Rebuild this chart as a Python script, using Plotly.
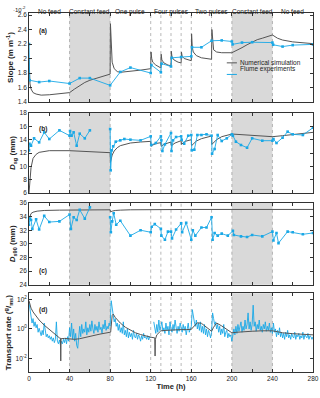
import plotly.graph_objects as go
from plotly.subplots import make_subplots

# ---- data ----
# (a) slope, x1e-2
slope_sim_t = [0, 0.5, 1, 2, 4, 7, 12, 20, 30, 40, 45, 50, 55, 60, 65, 70, 75, 80, 80.3, 81, 82, 84, 87, 90,
               100, 110, 120, 120.3, 121, 122, 125, 128, 130, 130.3, 131, 133, 137, 140, 140.3, 141, 143, 147,
               150, 150.3, 151, 153, 157, 160, 160.3, 161, 162, 165, 170, 175, 180, 180.3, 181, 182, 185, 190,
               200, 205, 210, 215, 220, 225, 230, 235, 240, 245, 250, 260, 270, 280]
slope_sim = [2.0, 1.75, 1.65, 1.58, 1.53, 1.51, 1.495, 1.50, 1.51, 1.53, 1.58, 1.63, 1.67, 1.70, 1.72, 1.74,
             1.76, 1.785, 2.48, 2.1, 1.95, 1.86, 1.82, 1.81, 1.82, 1.84, 1.86, 2.09, 2.0, 1.95, 1.91, 1.88,
             1.87, 2.06, 1.98, 1.94, 1.91, 1.90, 2.10, 2.02, 1.98, 1.95, 1.94, 2.09, 2.03, 2.0, 1.98, 1.97,
             2.34, 2.15, 2.09, 2.04, 2.01, 2.0, 1.99, 2.40, 2.2, 2.12, 2.09, 2.08, 2.08, 2.11, 2.15, 2.19,
             2.23, 2.26, 2.28, 2.30, 2.325, 2.28, 2.255, 2.23, 2.215, 2.205]
slope_exp_t = [0, 0.7, 10, 20, 40, 50, 60, 80, 90, 100, 120, 120.7, 130, 130.7, 140, 140.7, 150, 160,
               160.7, 170, 180, 190, 200, 200.7, 210, 220, 240, 240.7, 250, 260, 280]
slope_exp = [2.2, 1.70, 1.675, 1.69, 1.655, 1.73, 1.73, 1.63, 1.815, 1.875, 1.80, 1.91, 1.81, 1.93, 1.89,
             2.01, 2.02, 2.03, 2.155, 2.155, 2.245, 2.25, 2.235, 2.195, 2.22, 2.225, 2.22, 2.19, 2.165,
             2.185, 2.195]

# (b) Dsg (mm)
dsg_sim_t = [0, 0.5, 1, 2, 4, 7, 10, 20, 40, 60, 80, 80.3, 81, 82, 84, 87, 90, 95, 100, 110, 120, 120.3,
             122, 126, 130, 130.3, 133, 140, 140.3, 144, 150, 150.3, 154, 160, 160.3, 165, 170, 180, 180.3,
             185, 190, 200, 210, 220, 230, 240, 250, 260, 270, 280]
dsg_sim = [6.0, 7.5, 8.6, 9.8, 11.2, 11.8, 12.1, 12.35, 12.35, 12.2, 12.05, 10.6, 11.2, 11.7, 12.3, 12.8,
           13.1, 13.35, 13.5, 13.65, 13.75, 13.0, 13.2, 13.45, 13.55, 13.0, 13.3, 13.65, 13.1, 13.5, 13.85,
           13.3, 13.75, 14.0, 13.1, 13.8, 14.15, 14.55, 13.3, 14.0, 14.45, 14.85, 14.75, 14.6, 14.5, 14.45,
           14.6, 14.8, 14.95, 15.1]
dsg_exp_t = [0, 0.5, 2, 5, 10, 15, 20, 30, 40, 40.5, 42, 44, 47, 50, 55, 60, 70, 80, 80.5, 81.5, 83, 85.5,
             90, 94, 100, 110, 120, 120.5, 125, 130, 130.5, 131.5, 134, 140, 140.5, 142, 145, 150, 150.5,
             153, 157, 160, 160.5, 163, 166, 170, 175, 180, 180.5, 183, 186, 190, 195, 200, 201, 204, 209,
             215, 220, 230, 240, 241, 244, 250, 255, 260, 270, 280]
dsg_exp = [12.4, 13.4, 13.1, 14.2, 13.6, 15.1, 14.1, 15.4, 14.6, 15.3, 14.6, 15.1, 13.1, 14.9, 14.2, 15.4,
           None, 15.6, 9.4, 12.4, 13.0, 13.7, 13.9, 14.1, 14.0, 13.9, 14.5, 13.2, 13.5, 14.5, 13.9, 12.3,
           13.3, 15.0, 12.3, 13.9, 14.4, 14.5, 14.0, 13.4, 14.6, 14.7, 12.4, 12.5, 14.7, 14.7, 14.8, 14.6,
           11.9, 12.6, 14.7, 13.8, 14.2, 14.8, 14.6, 13.7, 13.2, 12.8, 14.2, 13.85, 13.85, 14.1, 13.5, 14.3,
           15.2, 14.8, 14.7, 15.8]

# (c) Ds90 (mm)
d90_sim_t = [0, 0.5, 1, 2, 4, 8, 15, 30, 80, 80.3, 82, 85, 90, 100, 160, 200, 280]
d90_sim = [33.6, 33.9, 34.2, 34.45, 34.65, 34.8, 34.9, 34.95, 35.0, 34.7, 34.8, 34.9, 34.95, 35.0, 35.05,
           35.05, 35.05]
d90_exp_t = [0, 1, 2, 3.3, 7, 10, 15, 20, 30, 40, 41.3, 44, 47, 50, 55, 60, 70, 80, 80.7, 82, 83.5, 86, 90,
             100, 110, 120, 121, 124, 130, 130.5, 134, 137, 140, 141, 145, 150, 151, 155, 160, 161.5, 164,
             170, 175, 180, 181, 183, 186, 190, 196, 201, 202, 209, 215, 220, 230, 240, 241, 244, 246, 255,
             260, 270, 280]
d90_exp = [32.8, 33.7, 33.5, 32.2, 33.6, 32.1, 34.1, 33.2, 33.3, 34.3, 32.2, 33.9, 33.5, 35.0, 33.7, 35.35,
           None, 33.9, 31.7, 33.3, 34.5, 32.8, 33.4, 31.2, 32.0, 31.7, 32.5, 32.9, 32.2, 31.2, 30.6, 31.8,
           31.8, 30.8, 32.1, 33.0, 31.7, 33.1, 30.6, 32.0, 31.2, 32.4, 32.4, 33.9, 30.6, 31.6, 31.2, 31.5,
           31.2, 31.9, 31.3, 31.1, 31.0, 31.3, 31.1, 31.8, 30.5, 31.6, 30.1, 31.8, 31.7, 31.4, 31.6]

# (d) transport rate (g m-1 s-1)
qs_sim_t = [0, 1, 2, 4, 7, 10, 15, 20, 25, 30, 31, 31.3, 31.6, 35, 40, 45, 50, 60, 70, 80, 80.5, 82, 83,
            85, 90, 95, 100, 105, 110, 115, 120, 124, 124.3, 124.6, 126, 128, 130, 135, 140, 145, 150, 155,
            160, 163, 166, 170, 175, 180, 182, 185, 190, 195, 200, 205, 210, 220, 230, 240, 245, 250, 260,
            270, 280]
qs_sim = [80, 40, 25, 14, 7, 4, 1.8, 0.9, 0.45, 0.25, 0.24, 0.007, 0.22, 0.23, 0.21, 0.2, 0.22, 0.33, 0.45,
          0.6, 0.6, 8, 10, 6, 2.5, 1.3, 0.8, 0.55, 0.42, 0.33, 0.28, 0.25, 0.015, 0.2, 0.4, 0.6, 0.75, 0.8,
          0.85, 0.85, 0.9, 0.9, 0.95, 1.6, 2.6, 2.4, 1.3, 0.7, 1.3, 2.5, 1.6, 0.9, 0.55, 0.6, 0.65, 0.7,
          0.75, 0.75, 0.65, 0.55, 0.48, 0.43, 0.4]
qs_exp_t = list(range(0, 281))
qs_exp = [60, 15, 4, 2.5, 5, 1.5, 3, 1.2, 2, 0.6, 1.1, 0.5, 0.35, 0.8, 0.4, 2.5, 0.5, 0.3, 0.45, 0.25,
          0.35, 0.2, 0.3, 0.15, 0.25, 0.12, 0.2, 3, 0.15, 0.1, 0.18, 0.08, 0.15, 0.1, 0.2, 0.12, 0.25, 0.1,
          0.3, 0.15, 1.2, 0.3, 2.5, 0.2, 1, 0.15, 0.5, 0.08, 0.05, 0.4, 1.5, 0.3, 2, 0.5, 1, 0.6, 3, 0.4,
          1.2, 0.6, 2, 0.7, 3.5, 1, 0.5, 2, 0.8, 1.5, 0.6, 3, 0.9, 1.3, 0.5, 2, 1, 4, 0.8, 1.5, 1, 2.5,
          1.5, 80, 20, 8, 3, 5, 1.5, 2.5, 0.8, 2, 0.6, 1.2, 0.5, 3, 0.4, 0.8, 0.3, 1, 0.25, 0.6, 0.3, 0.5,
          0.2, 0.8, 0.3, 0.25, 0.5, 0.2, 0.4, 0.3, 0.15, 0.35, 0.2, 0.5, 0.25, 0.3, 0.2, 0.35, 0.18, 0.3,
          0.25, None, None, 3, 1, 0.5, 2, 0.6, 4, 0.8, 1.5, 3, 0.7, 1.2, 0.5, 2.5, 0.8, 1.5, 0.4, 3, 1,
          0.6, 2, 0.8, 4, 1, 0.5, 1.5, 0.7, 2.5, 1, 0.6, 2, 0.8, 1.5, 0.4, 1, 2.5, 0.6, 1, 1.5, 20, 6, 3,
          1.5, 4, 1, 2.5, 0.8, 3, 0.6, 1.5, 0.5, 2, 0.4, 1, 0.3, 0.8, 0.5, 0.25, 0.6, 12, 5, 2, 3, 1, 2,
          0.6, 1.5, 0.4, 1, 0.5, 2, 0.3, 0.6, 0.8, 0.25, 0.5, 0.3, 0.4, 0.15, 0.3, 1, 0.4, 1.5, 0.5, 2,
          0.7, 1.2, 3, 0.6, 1.5, 0.8, 4, 1, 2, 12, 1, 3, 0.8, 2, 40, 1.5, 3, 0.7, 2, 1, 4, 0.8, 1.5, 0.6,
          2, 1, 3, 0.7, 1.5, 0.8, 2.5, 0.6, 1.2, 0.5, 2.5, 0.6, 1, 0.3, 0.8, 0.4, 1.2, 0.3, 0.6, 0.25, 0.5,
          0.2, 0.6, 0.3, 0.8, 0.25, 0.4, 0.2, 0.5, 0.3, 0.25, 0.6, 0.2, 0.4, 0.3, 0.5, 0.2, 0.35, 0.25,
          0.6, 0.2, 0.4, 0.3, 0.25, 0.5, 0.2, 0.35, 0.3, 0.2, 0.3]

feed_bands = [(40, 80), (200, 240)]
event_lines = [40, 80, 120, 130, 140, 150, 160, 180, 200, 240]
phase_labels = ["No feed", "Constant feed", "One pulse", "Four pulses", "Two pulses", "Constant feed", "No feed"]
phase_pos = [20, 60, 100, 140, 180, 220, 260]

BLUE = "#1aa8e6"
GREY = "#555555"
FONT = "Liberation Sans, Arial, sans-serif"
TXT = "#222222"

fig = make_subplots(rows=4, cols=1, shared_xaxes=True)

def sim(t, v, row):
    fig.add_trace(go.Scatter(x=t, y=v, mode="lines", line=dict(color=GREY, width=1),
                             name="Numerical simulation", showlegend=False), row=row, col=1)

def exp(t, v, row, markers=True):
    fig.add_trace(go.Scatter(x=t, y=v, mode="lines+markers" if markers else "lines",
                             line=dict(color=BLUE, width=0.9), marker=dict(symbol="square", size=2.6, color=BLUE),
                             name="Flume experiments", showlegend=False, connectgaps=False), row=row, col=1)

sim(slope_sim_t, slope_sim, 1)
exp(slope_exp_t, slope_exp, 1)
sim(dsg_sim_t, dsg_sim, 2)
exp(dsg_exp_t, dsg_exp, 2)
sim(d90_sim_t, d90_sim, 3)
exp(d90_exp_t, d90_exp, 3)
exp(qs_exp_t, qs_exp, 4, markers=False)
sim(qs_sim_t, qs_sim, 4)

domains = [[0.752, 1.0], [0.4986, 0.7214], [0.2432, 0.4708], [0.0, 0.2192]]
axfont = dict(family=FONT, size=6.5, color=TXT)
common = dict(showline=True, linecolor="#333", linewidth=0.8, mirror="allticks", ticks="inside",
              ticklen=3, tickwidth=0.6, tickcolor="#333", showgrid=False, zeroline=False, tickfont=axfont,
              automargin=False)

xt = list(range(0, 281, 20))
xl = [str(v) if v % 40 == 0 else "" for v in xt]
for i in range(1, 5):
    fig.update_xaxes(range=[0, 280], tickvals=xt, ticktext=xl, showticklabels=(i == 4), row=i, col=1, **common)

fig.update_xaxes(title=dict(text="<b>Time (h)</b>", font=dict(family=FONT, size=7.5, color=TXT), standoff=3),
                 row=4, col=1)

ttl = dict(family=FONT, size=8, color=TXT)
fig.update_yaxes(range=[1.4, 2.628], tickvals=[1.4, 1.6, 1.8, 2.0, 2.2, 2.4, 2.6],
                 ticktext=["1.4", "1.6", "1.8", "2", "2.2", "2.4", "2.6"],
                 title=dict(text="<b>Slope (m m<sup>-1</sup>)</b>", font=ttl, standoff=2), row=1, col=1, **common)
fig.update_yaxes(range=[6, 18], dtick=2,
                 title=dict(text="<b><i>D</i><sub>sg</sub> (mm)</b>", font=ttl, standoff=2), row=2, col=1, **common)
fig.update_yaxes(range=[24, 36], dtick=2,
                 title=dict(text="<b><i>D</i><sub>s90</sub> (mm)</b>", font=ttl, standoff=2), row=3, col=1, **common)
fig.update_yaxes(type="log", range=[-2.9, 2.4], tickvals=[0.01, 1, 100],
                 ticktext=["10<sup>-2</sup>", "10<sup>0</sup>", "10<sup>2</sup>"],
                 title=dict(text="<b>Transport rate (<sup>g</sup>/<sub>ms</sub>)</b>", font=ttl, standoff=2),
                 row=4, col=1, **common)

for i, d in enumerate(domains, start=1):
    fig.update_yaxes(domain=d, row=i, col=1)

shapes = []
for i in range(1, 5):
    xr = "x" if i == 1 else "x%d" % i
    yr = ("y" if i == 1 else "y%d" % i) + " domain"
    for a, b in feed_bands:
        shapes.append(dict(type="rect", xref=xr, yref=yr, x0=a, x1=b, y0=0, y1=1,
                           fillcolor="#d9d9d9", line=dict(width=0), layer="below"))
    for v in event_lines:
        shapes.append(dict(type="line", xref=xr, yref=yr, x0=v, x1=v, y0=0, y1=1,
                           line=dict(color="#9a9a9a", width=0.7, dash="dot"), layer="below"))

# legend drawn by hand (short line samples like the original)
leg_rows = [("Numerical simulation", GREY, 0.44), ("Flume experiments", BLUE, 0.31)]
for txt, col, yy in leg_rows:
    shapes.append(dict(type="line", xref="x", yref="y domain", x0=195, x1=205, y0=yy, y1=yy,
                       line=dict(color=col, width=1)))

ann = []
for txt, p in zip(phase_labels, phase_pos):
    ann.append(dict(text=txt, x=p, xref="x", y=1.0, yref="paper", yshift=7, showarrow=False,
                    font=dict(family=FONT, size=6.5, color=TXT)))
ann.append(dict(text="·10<sup>-2</sup>", x=0, xref="paper", y=1.0, yref="paper", yshift=9, xshift=-2,
                xanchor="right", showarrow=False, borderpad=0, font=dict(family=FONT, size=6, color=TXT)))
for lab, yr, yp in [("(a)", "y domain", 0.87), ("(b)", "y2 domain", 0.87),
                    ("(c)", "y3 domain", 0.1), ("(d)", "y4 domain", 0.87)]:
    ann.append(dict(text="<b>%s</b>" % lab, x=8, xref="x", y=yp, yref=yr, showarrow=False,
                    xanchor="left", font=dict(family=FONT, size=6.5, color=TXT)))
for txt, col, yy in leg_rows:
    ann.append(dict(text=txt, x=207, xref="x", y=yy, yref="y domain", showarrow=False, borderpad=0,
                    xanchor="left", font=dict(family=FONT, size=6.5, color=TXT)))

fig.update_layout(width=320, height=398, margin=dict(l=29, r=7, t=13, b=26),
                  paper_bgcolor="white", plot_bgcolor="white", shapes=shapes, annotations=ann,
                  font=dict(family=FONT, size=7), showlegend=False)

fig.write_html("out.html", config={"displayModeBar": False},
               post_script="document.body.style.margin='0';")
